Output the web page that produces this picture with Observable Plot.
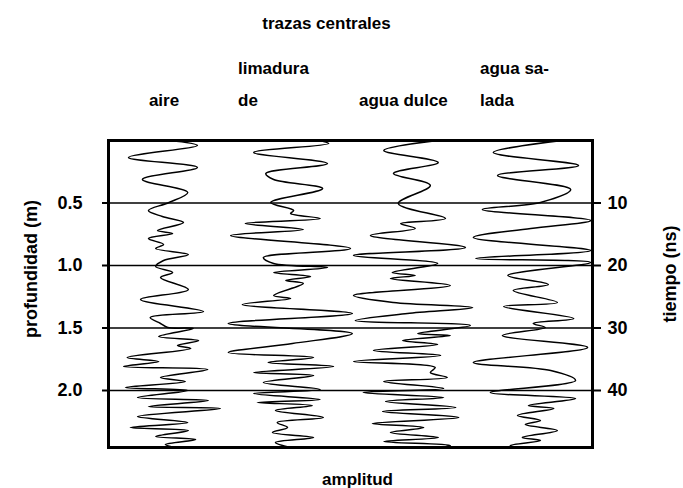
<!DOCTYPE html>
<html><head><meta charset="utf-8">
<script src="https://cdn.jsdelivr.net/npm/d3@7"></script>
<script src="https://cdn.jsdelivr.net/npm/@observablehq/plot@0.6"></script>
<style>body{margin:0;background:#fff} svg{display:block}</style>
</head><body><div id="chart"></div>
<script>
// column labels (trazas centrales)
const trazas = ["aire", "limadura\nde", "agua dulce", "agua sa-\nlada"];
// axis ticks
const profundidadTicks = [0.5, 1.0, 1.5, 2.0];
const tiempoTicks = [10, 20, 30, 40];
const profundidadMax = 2.456;

// trace 1: aire
const profAire = [0.000,0.040,0.136,0.216,0.312,0.416,0.496,0.560,0.608,0.656,0.720,0.744,0.784,0.832,0.864,0.912,0.960,1.008,1.056,1.096,1.192,1.272,1.368,1.416,1.464,1.496,1.504,1.568,1.600,1.640,1.664,1.736,1.768,1.808,1.832,1.896,1.928,1.976,2.000,2.056,2.080,2.128,2.144,2.208,2.256,2.296,2.320,2.368,2.392,2.432,2.456];
const ampAire = [0.02,0.47,-0.67,0.47,-0.44,0.31,0.00,-0.34,-0.11,0.24,-0.19,0.06,-0.34,-0.09,-0.22,0.32,-0.09,-0.22,0.06,-0.14,0.32,-0.47,0.57,-0.31,-0.14,-0.02,0.40,-0.17,0.49,0.14,0.36,-0.69,-0.17,-0.75,0.64,-0.14,0.27,-0.72,0.31,-0.52,0.65,-0.34,0.85,-0.52,0.31,-0.64,0.32,-0.22,0.44,-0.06,0.11];

// trace 2: limadura de
const profLimadura = [0.000,0.024,0.096,0.184,0.264,0.312,0.384,0.496,0.560,0.584,0.624,0.664,0.712,0.760,0.864,0.936,0.984,1.016,1.056,1.088,1.120,1.144,1.240,1.264,1.312,1.384,1.464,1.544,1.624,1.696,1.736,1.776,1.808,1.856,1.880,1.936,1.992,2.024,2.072,2.096,2.120,2.160,2.216,2.256,2.296,2.336,2.376,2.416,2.456];
const ampLimadura = [0.47,0.64,-0.60,0.62,-0.40,-0.27,0.54,-0.32,0.06,0.01,0.50,-0.74,0.22,-0.98,1.00,-0.44,-0.27,0.62,-0.27,0.34,-0.07,0.22,-0.27,0.01,-0.79,1.03,-1.02,1.03,0.04,-1.02,0.39,-0.36,0.72,-0.60,0.39,-0.44,0.50,-0.60,0.50,-0.54,0.37,-0.24,0.55,-0.21,-0.04,-0.29,0.39,-0.24,0.01];

// trace 3: agua dulce
const profDulce = [0.000,0.080,0.176,0.264,0.360,0.504,0.624,0.664,0.704,0.760,0.856,0.920,0.984,1.056,1.080,1.104,1.160,1.240,1.296,1.336,1.384,1.440,1.480,1.544,1.560,1.600,1.632,1.680,1.720,1.768,1.816,1.856,1.896,1.928,1.984,2.016,2.056,2.088,2.136,2.168,2.216,2.264,2.296,2.336,2.376,2.408,2.440,2.456];
const ampDulce = [0.44,-0.45,0.45,-0.29,0.32,-0.21,0.57,-0.17,0.07,-0.67,0.90,-0.95,0.44,-0.31,0.07,-0.34,0.65,-0.95,-0.29,1.02,-0.06,-0.92,0.98,0.11,0.65,-0.14,0.44,-0.62,0.49,-0.95,0.40,0.32,0.60,-0.45,0.54,-0.79,0.54,-0.42,0.74,-0.47,0.79,-0.64,0.21,-0.34,0.45,-0.45,0.65,0.49];

// trace 4: agua salada
const profSalada = [0.000,0.096,0.200,0.280,0.392,0.496,0.552,0.640,0.704,0.776,0.880,0.944,0.976,1.080,1.152,1.200,1.296,1.328,1.424,1.464,1.496,1.560,1.656,1.776,1.840,1.920,2.016,2.064,2.120,2.144,2.200,2.240,2.272,2.320,2.376,2.400,2.440,2.456];
const ampSalada = [0.50,-0.64,0.77,-0.57,0.64,0.14,-0.82,0.97,-0.02,-0.97,0.97,-0.93,0.97,-0.40,0.27,-0.31,0.42,-0.47,0.69,0.02,0.22,-0.49,0.92,-0.97,0.31,0.72,-0.69,0.72,-0.06,0.36,-0.24,0.14,-0.11,0.42,-0.16,0.14,-0.36,-0.27];

const series = [[profAire, ampAire], [profLimadura, ampLimadura], [profDulce, ampDulce], [profSalada, ampSalada]];
const rows = [];
series.forEach(([p, a], i) => p.forEach((d, j) => rows.push({traza: i, profundidad: d, amplitud: a[j]})));

const chart = Plot.plot({
  width: 683, height: 488,
  marginTop: 140, marginBottom: 41, marginLeft: 108, marginRight: 91,
  style: {fontFamily: "'Liberation Sans', Arial, sans-serif", fontWeight: "bold", fontSize: "17px", color: "black", background: "white"},
  x: {domain: [0, 4], axis: null},
  y: {domain: [0, profundidadMax], reverse: true},
  marks: [
    Plot.ruleY(profundidadTicks, {stroke: "black", strokeWidth: 1.3}),
    Plot.line(rows, {x: d => d.traza + 0.5 + d.amplitud / 2, y: "profundidad", z: "traza", curve: "catmull-rom", stroke: "black", strokeWidth: 1.5}),
    Plot.frame({stroke: "black", strokeWidth: 3}),
    Plot.axisY(profundidadTicks, {anchor: "left", tickSize: 6, tickPadding: 20, strokeWidth: 2, tickFormat: d => d.toFixed(1), label: null, fontSize: 18}),
    Plot.axisY(profundidadTicks, {anchor: "right", tickSize: 8, tickPadding: 7, strokeWidth: 2, tickFormat: d => String(tiempoTicks[profundidadTicks.indexOf(d)]), label: null, fontSize: 18}),
    Plot.text(["profundidad (m)"], {frameAnchor: "left", textAnchor: "middle", dx: -77, dy: -25, rotate: -90, fontSize: 18}),
    Plot.text(["tiempo (ns)"], {frameAnchor: "right", textAnchor: "middle", dx: 78, dy: -20, rotate: -90, fontSize: 18}),
    Plot.text(["trazas centrales"], {frameAnchor: "top", dx: -24, dy: -112, lineAnchor: "bottom", fontSize: 17}),
    Plot.text(trazas.slice(0, 1), {x: (d, i) => i + 0.5, frameAnchor: "top", dx: -5, dy: -35, lineAnchor: "bottom", fontSize: 17}),
    Plot.text(trazas.slice(1), {x: (d, i) => i + 1.5, frameAnchor: "top", textAnchor: "start", dx: -52, dy: -35, lineAnchor: "bottom", lineHeight: 1.88, fontSize: 17}),
    Plot.text(["amplitud"], {frameAnchor: "bottom", dx: 7, dy: 37, lineAnchor: "bottom", fontSize: 17})
  ]
});
document.getElementById("chart").append(chart);
</script>
</body></html>
